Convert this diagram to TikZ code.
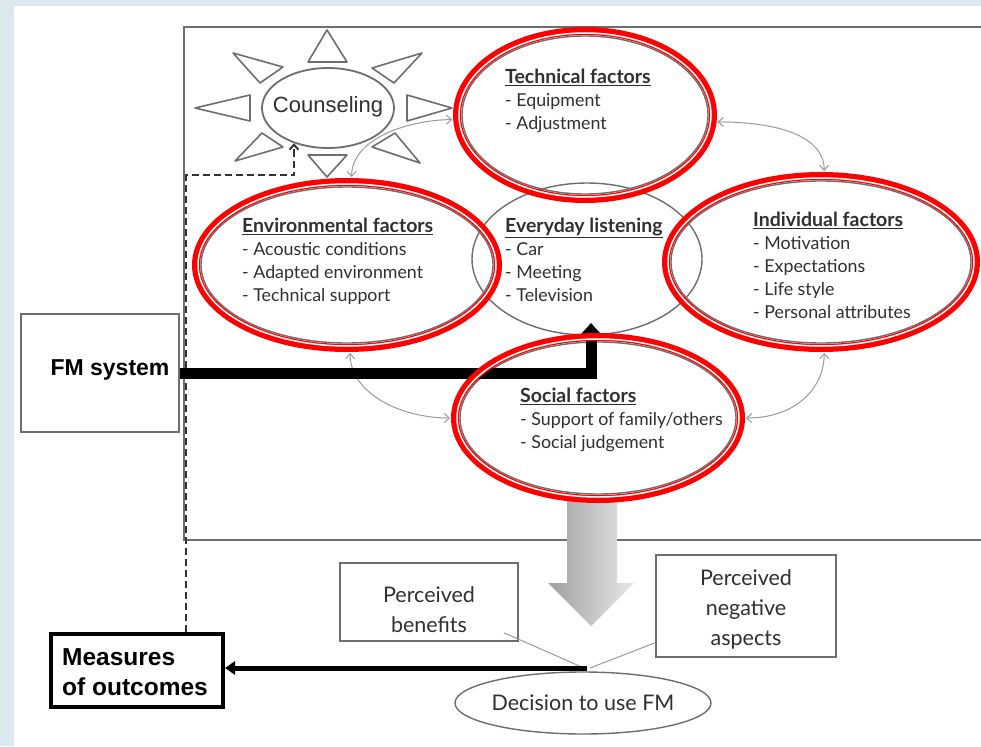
\documentclass[tikz,border=0pt]{standalone}
\usepackage{fontspec}
\setmainfont{Lato}
\newfontfamily\arialfont{Liberation Sans}
\usetikzlibrary{shapes.geometric,arrows.meta,calc}
\definecolor{pagebg}{HTML}{DCE8EF}
\definecolor{framegray}{HTML}{6E6E6E}
\definecolor{linkgray}{HTML}{9A9A9A}
\definecolor{inkgray}{HTML}{303030}
\definecolor{ringred}{HTML}{FF0000}

% red double ring drawn around a factor ellipse (node, x radius, y radius)
\newcommand\ringaround[3]{%
  \draw[ringthick] (#1.center) ellipse [x radius={#2pt+5pt}, y radius={#3pt+5pt}];
  \draw[ringgap] (#1.center) ellipse [x radius={#2pt+3pt}, y radius={#3pt+3pt}];}
% underlined bold heading inside a factor ellipse
\newcommand\factorhead[1]{\underline{{\fontsize{19.5}{23}\selectfont\bfseries #1}}}

\tikzset{linkbarb/.tip={Straight Barb[length=5pt,width=9pt]}}

\begin{document}
\begin{tikzpicture}[x=1pt,y=-1pt,
  factor/.style={ellipse, draw=framegray, line width=1.4pt, inner sep=0pt, outer sep=10pt},
  factortext/.style={anchor=west, align=left, text=inkgray, inner sep=0pt,
    font=\fontsize{17.8}{23}\selectfont},
  sunray/.style={draw=framegray, line width=1.6pt, fill=white, line join=round},
  link/.style={draw=linkgray, line width=1pt, linkbarb-linkbarb},
  plainbox/.style={draw=framegray, line width=1.4pt, fill=white, inner sep=0pt},
  boxtext/.style={align=center, text=inkgray, inner sep=0pt, font=\fontsize{21.5}{30}\selectfont},
  ringthick/.style={draw=ringred, line width=8pt},
  ringgap/.style={draw=white, line width=1.5pt},
]
\useasboundingbox (0,0) rectangle (981,746);
\fill[pagebg] (0,0) rectangle (981,746);
\fill[white] (14,6) rectangle (981,746);

\begin{scope}
\clip (14,6) rectangle (981,746);

% outer frame of the listening situation
\draw[framegray, line width=2pt] (995,27) -- (184,27) -- (184,540) -- (995,540);

% counseling sun
\foreach \p in {
  {(308,62) -- (347,62) -- (327,30)},
  {(308,155) -- (347,155) -- (327,177)},
  {(250,95) -- (250,121) -- (195,108)},
  {(407,95) -- (407,121) -- (452,108)},
  {(283,67) -- (260,83) -- (233,53)},
  {(372,68) -- (394,83) -- (422,53)},
  {(262,133) -- (283,147) -- (235,161)},
  {(372,147) -- (395,133) -- (420,163)}}
  \draw[sunray] \p -- cycle;
\node[ellipse, draw=framegray, line width=1.8pt, fill=white, inner sep=0pt,
      minimum width=132, minimum height=80] (couns) at (328,108) {};
\node[font=\arialfont\fontsize{22}{24}\selectfont, text=inkgray] (counstext) at (328,107) {Counseling};

% factor ellipses
\node[factor, minimum width=246, minimum height=158] (tech) at (585,115) {};
\node[factor, minimum width=292, minimum height=156] (env) at (347,265) {};
\node[factor, outer sep=0.7pt, minimum width=230, minimum height=152] (every) at (587,259) {};
\node[factor, minimum width=300, minimum height=162] (indiv) at (821,262) {};
\node[factor, minimum width=276, minimum height=152] (social) at (598,418) {};

% links between the factors
\draw[link] (env.87) .. controls +(0,-40) and +(-40,0) .. (tech.182);
\draw[link] (tech.-3) .. controls +(60,0) and +(0,-35) .. (indiv.88);
\draw[link] (env.-88) .. controls +(0,40) and +(-50,0) .. (social.180);
\draw[link] (social.0) .. controls +(50,0) and +(0,35) .. (indiv.-88);

% factor texts
\node[factortext] (techtext) at (505,101)
  {\factorhead{Technical factors}\\- Equipment\\- Adjustment};
\node[factortext] (envtext) at (242,261)
  {\factorhead{Environmental factors}\\- Acoustic conditions\\- Adapted environment\\- Technical support};
\node[factortext] (everytext) at (505,260)
  {\factorhead{Everyday listening}\\- Car\\- Meeting\\- Television};
\node[factortext] (indivtext) at (753,265)
  {\factorhead{Individual factors}\\- Motivation\\- Expectations\\- Life style\\- Personal attributes};
\node[factortext] (socialtext) at (520,420)
  {\factorhead{Social factors}\\- Support of family/others\\- Social judgement};

% big shaded arrow towards the decision
\shade[left color=gray!75, right color=gray!18]
  (567,495) -- (617,495) -- (617,583) -- (634,583) -- (591,626) -- (548,583) -- (567,583) -- cycle;

% left-hand boxes
\node[plainbox, minimum width=158, minimum height=118] (fm) at (100,373) {};
\node[font=\arialfont\bfseries\fontsize{23}{25}\selectfont, text=black] (fmtext) at (110,370) {FM system};
\node[draw=black, line width=4pt, fill=white, minimum width=172, minimum height=73, inner sep=0pt] (meas) at (137,670) {};
\node[anchor=west, align=left, inner sep=0pt, font=\arialfont\bfseries\fontsize{24.5}{30}\selectfont] (meastext) at (62,672) {Measures\\of outcomes};

% dashed feedback path from the outcomes to counseling
\coordinate (dashturn) at (186,175);
\coordinate (dashcorner) at (294,175);
\draw[black!80, line width=2pt, dash pattern=on 7pt off 4pt, -linkbarb]
  (meas.north -| dashturn) -- (dashturn) -- (dashcorner) -- (dashcorner |- couns.226);

% FM system acting on everyday listening
\coordinate (fmtip) at (591,323);
\draw[black, line width=11pt, line join=miter, -{Triangle[length=11pt,width=19pt]}]
  (fm.east) -| (fmtip);

% red highlight rings
\ringaround{tech}{123}{79}
\ringaround{env}{146}{78}
\ringaround{indiv}{150}{81}
\ringaround{social}{138}{76}

% decision part
\node[plainbox, minimum width=178, minimum height=78] (pb) at (429,602) {};
\node[boxtext] (pbtext) at (429,610) {Perceived\\benefits};
\node[plainbox, minimum width=180, minimum height=102] (pn) at (746,606) {};
\node[boxtext] (pntext) at (746,609) {Perceived\\negative\\aspects};
\node[ellipse, draw=framegray, line width=1.4pt, fill=white, inner sep=0pt,
      minimum width=256, minimum height=62] (dec) at (583,703) {};
\node[boxtext] (dectext) at (583,703) {Decision to use FM};

\coordinate (decpt) at (587,668);
\draw[linkgray, line width=1pt] ($(pb.south east)+(-15,-9)$) -- ($(decpt)+(-3,0)$);
\draw[linkgray, line width=1pt] ($(pn.south west)+(0,-15)$) -- ($(decpt)+(3,0)$);
\draw[black, line width=5pt, -{Triangle[length=10pt,width=13pt]}] (decpt) -- (decpt -| meas.east);
\end{scope}
\end{tikzpicture}
\end{document}
